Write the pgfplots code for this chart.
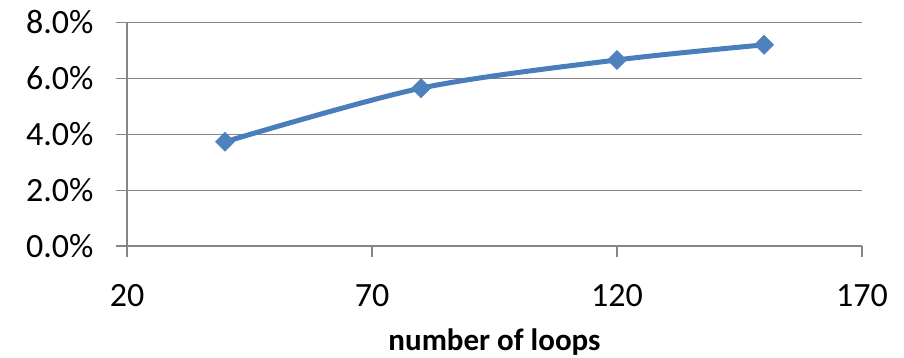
\documentclass[border=0pt]{standalone}
\usepackage{pgfplots}
\pgfplotsset{compat=1.18}
\usepackage{fontspec}
\setmainfont{Carlito}
\definecolor{xlblue}{HTML}{4A7EBB}
\definecolor{xlmark}{HTML}{4F81BD}
\definecolor{xlgrid}{HTML}{868686}
\begin{document}
\begin{tikzpicture}[x=1pt,y=1pt]
\useasboundingbox (0,0) rectangle (904,358);
\begin{axis}[
  at={(127pt,112pt)}, anchor=south west,
  scale only axis, width=735pt, height=223.5pt,
  xmin=20, xmax=170, ymin=0, ymax=8,
  axis lines=left,
  axis line style={-, draw=xlgrid, line width=1.2pt},
  xtick={20,70,120,170}, xticklabels={20,70,120,170},
  ytick={0,2,4,6,8}, yticklabels={0.0\%,2.0\%,4.0\%,6.0\%,8.0\%},
  tick align=outside, major tick length=11pt,
  every tick/.style={draw=xlgrid, line width=1.2pt},
  ymajorgrids, grid style={draw=xlgrid, line width=1.2pt},
  ticklabel style={font=\fontsize{34}{40}\selectfont},
  yticklabel style={anchor=east, xshift=-19pt},
  xticklabel style={yshift=-24pt},
  xlabel={number of loops},
  xlabel style={font=\fontsize{31}{36}\selectfont\bfseries, at={(axis description cs:0.5,0)}, anchor=base, yshift=-105pt},
  clip=false,
]
\addplot[draw=xlblue, line width=5pt, line join=round, line cap=round, smooth, tension=0.5,
  mark=square*, mark size=6.8pt, mark options={rotate=45, fill=xlmark, draw=xlmark, line width=0.4pt, line join=miter, solid}]
  coordinates {(40,3.73) (80,5.65) (120,6.66) (150,7.20)};
\end{axis}
\end{tikzpicture}
\end{document}
